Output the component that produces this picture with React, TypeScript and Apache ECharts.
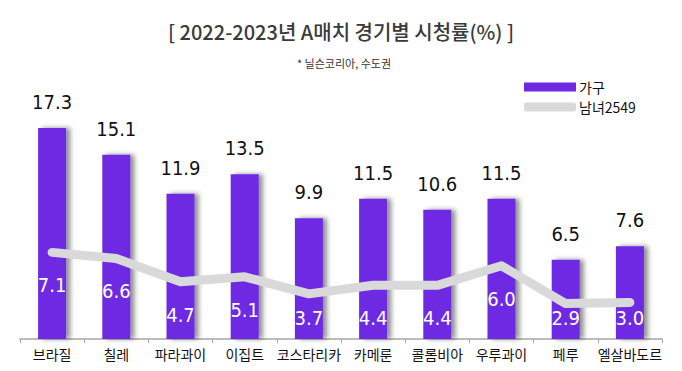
import React, { useEffect, useRef } from "react";
import * as echarts from "echarts";

const categories = ["브라질", "칠레", "파라과이", "이집트", "코스타리카", "카메룬", "콜롬비아", "우루과이", "페루", "엘살바도르"];
const householdValues = [17.3, 15.1, 11.9, 13.5, 9.9, 11.5, 10.6, 11.5, 6.5, 7.6];
const adultValues = [7.1, 6.6, 4.7, 5.1, 3.7, 4.4, 4.4, 6.0, 2.9, 3.0];
const titleText = "[ 2022-2023년 A매치 경기별 시청률(%) ]";
const subtitleText = "* 닐슨코리아, 수도권";

const NUM_FONT = "'DejaVu Sans Condensed', 'Liberation Sans Narrow', 'Noto Sans CJK KR', sans-serif";
const KR_FONT = "'Noto Sans CJK KR', sans-serif";

export default function App() {
  const ref = useRef<HTMLDivElement>(null);
  useEffect(() => {
    if (!ref.current) return;
    const chart = echarts.init(ref.current, null, { renderer: "svg" });
    const pxPerUnit = 12.17;
    const floorValue = 2.63;
    chart.setOption({
      animation: false,
      title: [
        {
          text: titleText,
          left: "center",
          top: 16,
          textStyle: { fontFamily: KR_FONT, fontSize: 20, fontWeight: 500, color: "#3a3a3a" },
        },
        {
          text: subtitleText,
          left: 292,
          top: 52,
          textStyle: { fontFamily: KR_FONT, fontSize: 11, fontWeight: 400, color: "#333" },
        },
      ],
      legend: {
        orient: "vertical",
        left: 519,
        top: 75,
        itemWidth: 52,
        itemHeight: 9,
        itemGap: 6,
        textStyle: { fontFamily: KR_FONT, fontSize: 14, color: "#111", padding: [0, 0, 0, -2] },
        data: [
          { name: "가구", icon: "rect", itemStyle: { color: "#6E2AE2", shadowBlur: 0 } },
          { name: "남녀2549", icon: "roundRect", itemStyle: { color: "#D9D9D9" } },
        ],
      },
      grid: { left: 20, right: 20, top: 95, bottom: 32 },
      xAxis: {
        type: "category",
        data: categories,
        boundaryGap: true,
        axisLine: { lineStyle: { color: "#A6A6A6", width: 1.5 } },
        axisTick: { show: true, length: 4, lineStyle: { color: "#A6A6A6" } },
        axisLabel: { fontFamily: KR_FONT, fontSize: 14, color: "#111", margin: 8, interval: 0 },
      },
      yAxis: {
        type: "value",
        min: 0,
        max: 20,
        show: false,
        splitLine: { show: false },
      },
      series: [
        {
          name: "가구",
          type: "bar",
          data: householdValues,
          barWidth: 28,
          itemStyle: {
            color: "#6E2AE2",
            shadowColor: "rgba(0,0,0,0.45)",
            shadowBlur: 5,
            shadowOffsetX: 4,
            shadowOffsetY: 0,
          },
          label: {
            show: true,
            position: "top",
            distance: 16,
            fontFamily: NUM_FONT,
            fontSize: 20,
            color: "#111",
            formatter: (p: any) => Number(p.value).toFixed(1),
          },
          z: 2,
        },
        {
          name: "남녀2549",
          type: "line",
          data: adultValues.map((v) => ({
            value: v,
            label: {
              distance: Math.max(0, Math.min(22, (v - floorValue) * pxPerUnit)),
            },
          })),
          symbol: "circle",
          symbolSize: 2,
          showSymbol: true,
          lineStyle: { color: "#D9D9D9", width: 9, cap: "round", join: "round" },
          itemStyle: { color: "#D9D9D9" },
          label: {
            show: true,
            position: "bottom",
            fontFamily: NUM_FONT,
            fontSize: 20,
            color: "#ffffff",
            formatter: (p: any) => Number(p.value).toFixed(1),
          },
          z: 3,
        },
      ],
    });
    return () => chart.dispose();
  }, []);
  return <div ref={ref} style={{ width: 682, height: 371, position: "absolute", left: 0, top: 0 }} />;
}
